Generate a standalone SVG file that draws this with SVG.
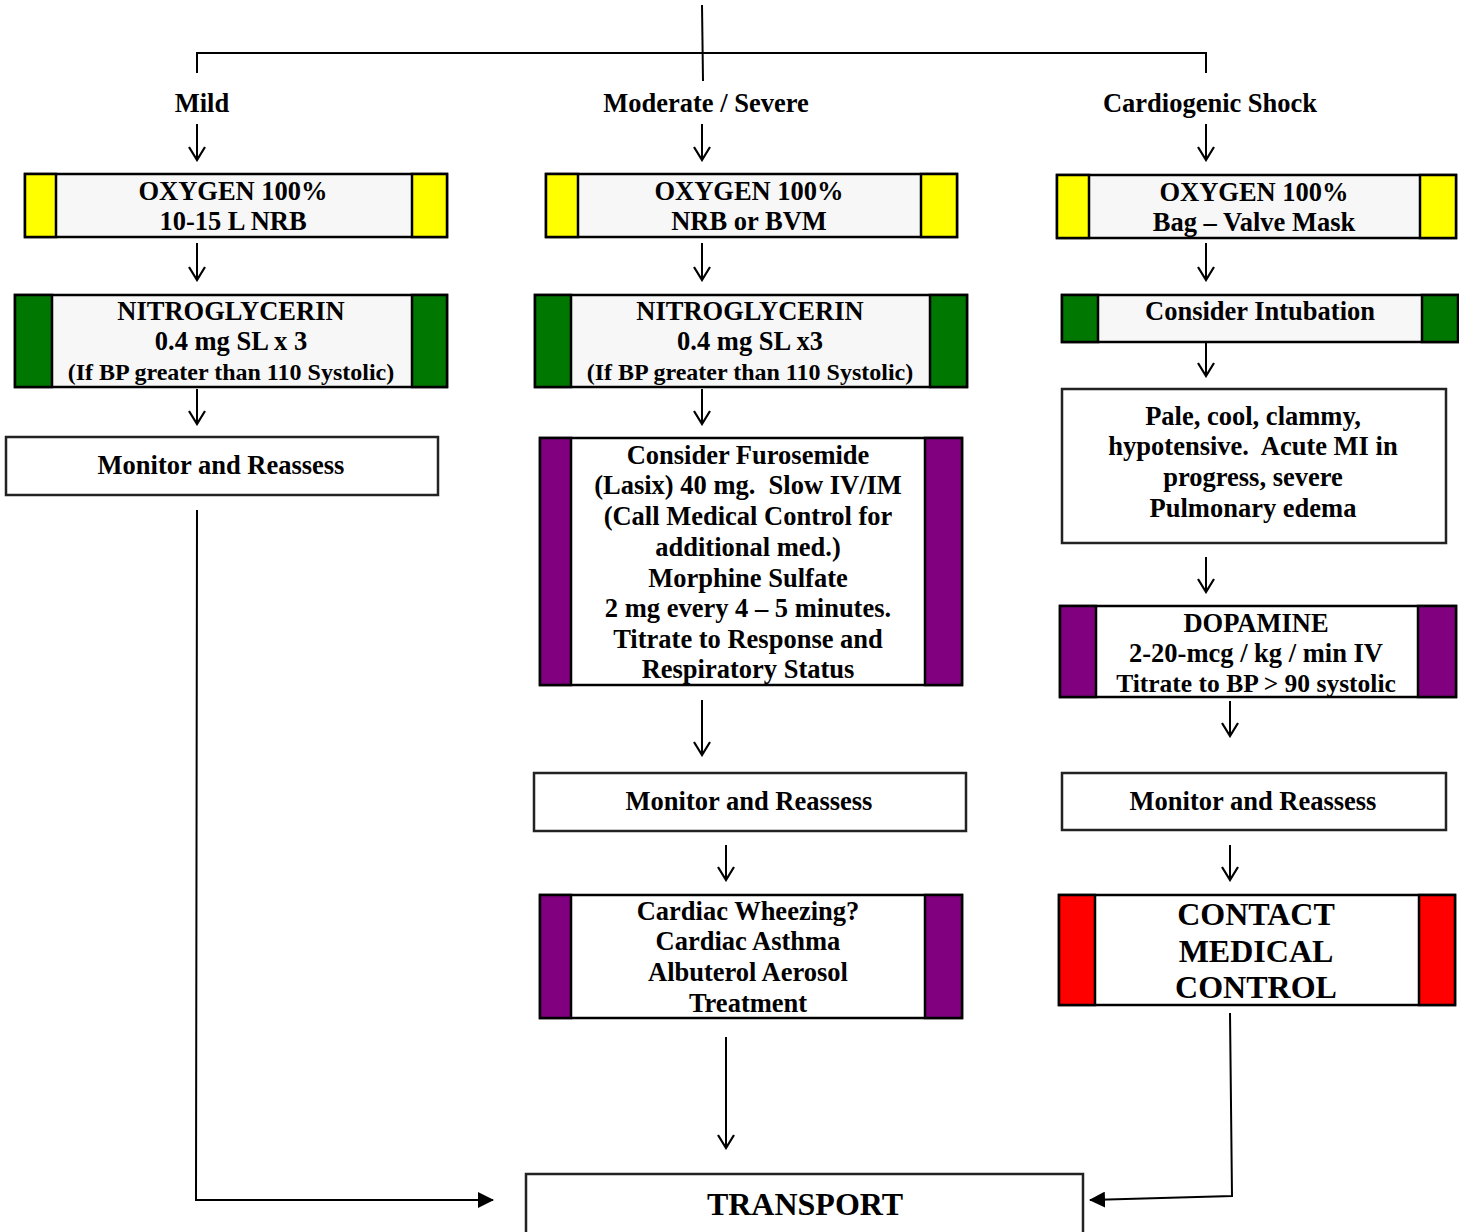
<svg xmlns="http://www.w3.org/2000/svg" width="1459" height="1232" viewBox="0 0 1459 1232">
<style>
text{font-family:"Liberation Serif","Times New Roman",serif;font-weight:bold;fill:#000;text-anchor:middle;white-space:pre}
.t{font-size:26.5px}
.s{font-size:24px}
.b{font-size:32px}
.box{fill:#f7f7f7;stroke:#000;stroke-width:2.5}
.wbox{fill:#fff;stroke:#222;stroke-width:2.5}
.y{fill:#ffff00;stroke:#000;stroke-width:2.5}
.g{fill:#007700;stroke:#000;stroke-width:2.5}
.p{fill:#800080;stroke:#000;stroke-width:2.5}
.r{fill:#ff0000;stroke:#000;stroke-width:2.5}
.ln{fill:none;stroke:#000;stroke-width:2}
</style>
<defs>
<marker id="v" markerWidth="16" markerHeight="18" refX="14" refY="9" orient="auto" markerUnits="userSpaceOnUse" viewBox="0 0 16 18">
<path d="M1,1 L14,9 L1,17" fill="none" stroke="#000" stroke-width="2.2"/>
</marker>
<marker id="f" markerWidth="16" markerHeight="16" refX="15" refY="8" orient="auto" markerUnits="userSpaceOnUse" viewBox="0 0 16 16">
<path d="M0,0 L16,8 L0,16 Z" fill="#000"/>
</marker>
</defs>

<g id="connectors">
<path class="ln" d="M702,5 L703,81"/>
<path class="ln" d="M197,73 L197,53 L1206,53 L1206,73"/>
<path class="ln" d="M197,124 L197,160" marker-end="url(#v)"/>
<path class="ln" d="M702,124 L702,160" marker-end="url(#v)"/>
<path class="ln" d="M1206,124 L1206,160" marker-end="url(#v)"/>
<path class="ln" d="M197,243 L197,280" marker-end="url(#v)"/>
<path class="ln" d="M702,243 L702,280" marker-end="url(#v)"/>
<path class="ln" d="M1206,243 L1206,280" marker-end="url(#v)"/>
<path class="ln" d="M197,389 L197,424" marker-end="url(#v)"/>
<path class="ln" d="M702,389 L702,424" marker-end="url(#v)"/>
<path class="ln" d="M1206,342 L1206,376" marker-end="url(#v)"/>
<path class="ln" d="M702,700 L702,755" marker-end="url(#v)"/>
<path class="ln" d="M1206,557 L1206,592" marker-end="url(#v)"/>
<path class="ln" d="M1230,701 L1230,736" marker-end="url(#v)"/>
<path class="ln" d="M726,845 L726,880" marker-end="url(#v)"/>
<path class="ln" d="M1230,845 L1230,880" marker-end="url(#v)"/>
<path class="ln" d="M726,1037 L726,1148" marker-end="url(#v)"/>
<path class="ln" d="M197,510 L196,1200 L493,1200" stroke-width="2.5" marker-end="url(#f)"/>
<path class="ln" d="M1230,1013 L1232,1196 L1090,1200" stroke-width="2.5" marker-end="url(#f)"/>
</g>

<g id="label-mild"><text class="t" x="202" y="112">Mild</text></g>
<g id="label-moderate"><text class="t" x="706" y="112">Moderate / Severe</text></g>
<g id="label-shock"><text class="t" x="1210" y="112">Cardiogenic Shock</text></g>

<g id="oxygen-mild">
<rect class="box" x="25" y="174" width="422" height="63"/>
<rect class="y" x="25" y="174" width="31" height="63"/>
<rect class="y" x="412" y="174" width="35" height="63"/>
<text class="t" x="233" y="200">OXYGEN 100%</text>
<text class="t" x="233" y="230">10-15 L NRB</text>
</g>
<g id="oxygen-moderate">
<rect class="box" x="546" y="174" width="411" height="63"/>
<rect class="y" x="546" y="174" width="32" height="63"/>
<rect class="y" x="921" y="174" width="36" height="63"/>
<text class="t" x="749" y="200">OXYGEN 100%</text>
<text class="t" x="749" y="230">NRB or BVM</text>
</g>
<g id="oxygen-shock">
<rect class="box" x="1057" y="175" width="399" height="63"/>
<rect class="y" x="1057" y="175" width="32" height="63"/>
<rect class="y" x="1420" y="175" width="36" height="63"/>
<text class="t" x="1254" y="201">OXYGEN 100%</text>
<text class="t" x="1254" y="231">Bag – Valve Mask</text>
</g>

<g id="nitro-mild">
<rect class="box" x="15" y="295" width="432" height="92"/>
<rect class="g" x="15" y="295" width="37" height="92"/>
<rect class="g" x="412" y="295" width="35" height="92"/>
<text class="t" x="231" y="320">NITROGLYCERIN</text>
<text class="t" x="231" y="350">0.4 mg SL x 3</text>
<text class="s" x="231" y="380">(If BP greater than 110 Systolic)</text>
</g>
<g id="nitro-moderate">
<rect class="box" x="535" y="295" width="432" height="92"/>
<rect class="g" x="535" y="295" width="36" height="92"/>
<rect class="g" x="930" y="295" width="37" height="92"/>
<text class="t" x="750" y="320">NITROGLYCERIN</text>
<text class="t" x="750" y="350">0.4 mg SL x3</text>
<text class="s" x="750" y="380">(If BP greater than 110 Systolic)</text>
</g>
<g id="intubation">
<rect class="box" x="1062" y="295" width="396" height="47"/>
<rect class="g" x="1062" y="295" width="36" height="47"/>
<rect class="g" x="1422" y="295" width="36" height="47"/>
<text class="t" x="1260" y="320">Consider Intubation</text>
</g>

<g id="monitor-mild">
<rect class="wbox" x="6" y="437" width="432" height="58"/>
<text class="t" x="221" y="474">Monitor and Reassess</text>
</g>

<g id="furosemide">
<rect class="wbox" x="540" y="438" width="422" height="247" style="stroke:#000"/>
<rect class="p" x="540" y="438" width="31" height="247"/>
<rect class="p" x="925" y="438" width="37" height="247"/>
<text class="t" x="748" y="464">Consider Furosemide</text>
<text class="t" x="748" y="494">(Lasix) 40 mg.  Slow IV/IM</text>
<text class="t" x="748" y="525">(Call Medical Control for</text>
<text class="t" x="748" y="556">additional med.)</text>
<text class="t" x="748" y="587">Morphine Sulfate</text>
<text class="t" x="748" y="617">2 mg every 4 – 5 minutes.</text>
<text class="t" x="748" y="648">Titrate to Response and</text>
<text class="t" x="748" y="678">Respiratory Status</text>
</g>

<g id="monitor-moderate">
<rect class="wbox" x="534" y="773" width="432" height="58"/>
<text class="t" x="749" y="810">Monitor and Reassess</text>
</g>

<g id="wheezing">
<rect class="wbox" x="540" y="895" width="422" height="123" style="stroke:#000"/>
<rect class="p" x="540" y="895" width="31" height="123"/>
<rect class="p" x="925" y="895" width="37" height="123"/>
<text class="t" x="748" y="920">Cardiac Wheezing?</text>
<text class="t" x="748" y="950">Cardiac Asthma</text>
<text class="t" x="748" y="981">Albuterol Aerosol</text>
<text class="t" x="748" y="1012">Treatment</text>
</g>

<g id="pale">
<rect class="wbox" x="1062" y="389" width="384" height="154"/>
<text class="t" x="1253" y="425">Pale, cool, clammy,</text>
<text class="t" x="1253" y="455">hypotensive.  Acute MI in</text>
<text class="t" x="1253" y="486">progress, severe</text>
<text class="t" x="1253" y="517">Pulmonary edema</text>
</g>

<g id="dopamine">
<rect class="wbox" x="1060" y="606" width="396" height="91" style="stroke:#000"/>
<rect class="p" x="1060" y="606" width="36" height="91"/>
<rect class="p" x="1418" y="606" width="38" height="91"/>
<text class="t" x="1256" y="632">DOPAMINE</text>
<text class="t" x="1256" y="662">2-20-mcg / kg / min IV</text>
<text class="t" x="1256" y="692" style="font-size:25.5px">Titrate to BP &gt; 90 systolic</text>
</g>

<g id="monitor-shock">
<rect class="wbox" x="1062" y="773" width="384" height="57"/>
<text class="t" x="1253" y="810">Monitor and Reassess</text>
</g>

<g id="contact">
<rect class="wbox" x="1059" y="895" width="396" height="110" style="stroke:#000"/>
<rect class="r" x="1059" y="895" width="36" height="110"/>
<rect class="r" x="1419" y="895" width="36" height="110"/>
<text class="b" x="1256" y="925">CONTACT</text>
<text class="b" x="1256" y="962">MEDICAL</text>
<text class="b" x="1256" y="998">CONTROL</text>
</g>

<g id="transport">
<rect class="wbox" x="526" y="1174" width="557" height="60"/>
<text class="b" x="805" y="1215">TRANSPORT</text>
</g>
</svg>
